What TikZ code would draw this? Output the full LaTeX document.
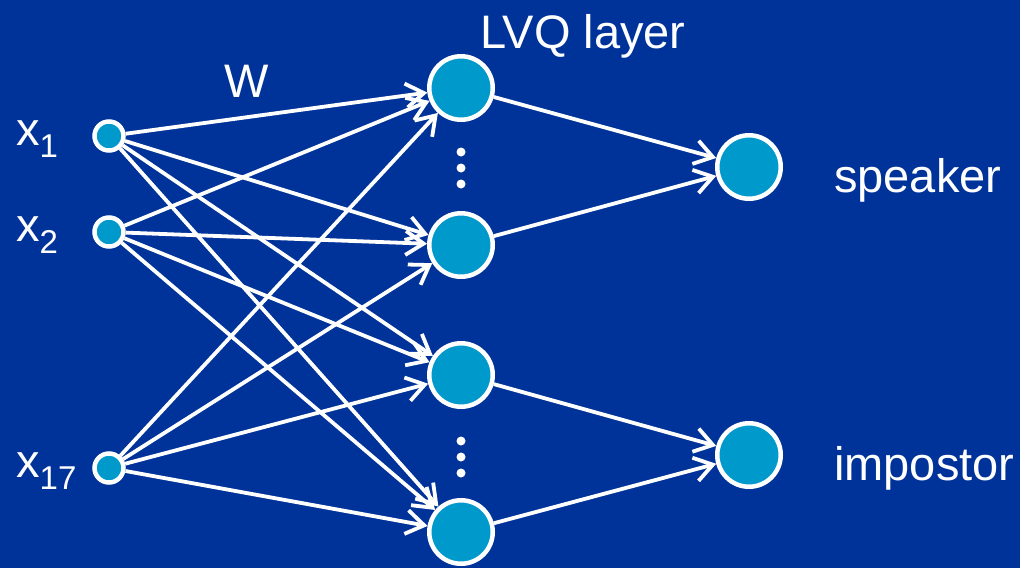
\documentclass[tikz,border=0pt]{standalone}
\usepackage{fontspec}
\setmainfont{Liberation Sans}
\usetikzlibrary{arrows.meta}
\definecolor{slideblue}{RGB}{0,51,153}
\definecolor{unitfill}{RGB}{0,153,204}
\newcommand{\bigtext}{\fontsize{47}{56}\selectfont}
\newcommand{\subtext}{\fontsize{33}{40}\selectfont}

\begin{document}
\begin{tikzpicture}[x=1pt, y=-1pt,
  inp/.style={circle, draw=white, line width=4.5pt, fill=unitfill, minimum size=29pt, inner sep=0pt},
  unit/.style={circle, draw=white, line width=4.5pt, fill=unitfill, minimum size=63.5pt, inner sep=0pt},
  wire/.style={draw=white, line width=3.8pt, -{Straight Barb[length=18pt, width=24pt]}},
  lab/.style={text=white, font=\bigtext, inner sep=0pt},
  vdot/.style={circle, fill=white, minimum size=9pt, inner sep=0pt}]

% ---- background ----
\fill[slideblue] (0,0) rectangle (1020,568);
\useasboundingbox (0,0) rectangle (1020,568);

% ---- input layer ----
\node[inp] (x1) at (109,136) {};
\node[inp] (x2) at (109,232) {};
\node[inp] (x17) at (109,468) {};
\node[lab, anchor=base west] at (16,145) {x\raisebox{-12pt}{\subtext 1}};
\node[lab, anchor=base west] at (16,241) {x\raisebox{-12pt}{\subtext 2}};
\node[lab, anchor=base west] at (16,477) {x\raisebox{-12pt}{\subtext 17}};

% ---- LVQ layer ----
\node[unit] (h1) at (461,88) {};
\node[unit] (h2) at (461,245) {};
\node[unit] (h3) at (461,375) {};
\node[unit] (h4) at (461,532) {};
\foreach \y in {152,168,184,441,457,473}
  \node[vdot] at (461,\y) {};

% ---- output layer ----
\node[unit] (spk) at (749,167) {};
\node[unit] (imp) at (749,455) {};

% ---- labels ----
\node[lab, anchor=base] (wlab) at (247,97) {W};
\node[lab, anchor=base west] (lvq) at (480,48) {LVQ layer};
\node[lab, anchor=base west] (spklab) at (834,192) {speaker};
\node[lab, anchor=base west] (implab) at (834,480) {impostor};

% ---- weights W: every input to every LVQ unit ----
\foreach \i in {x1,x2,x17}
  \foreach \h in {h1,h2,h3,h4}
    \draw[wire] (\i) -- (\h);

% ---- LVQ units to classes ----
\draw[wire] (h1) -- (spk);
\draw[wire] (h2) -- (spk);
\draw[wire] (h3) -- (imp);
\draw[wire] (h4) -- (imp);
\end{tikzpicture}
\end{document}
